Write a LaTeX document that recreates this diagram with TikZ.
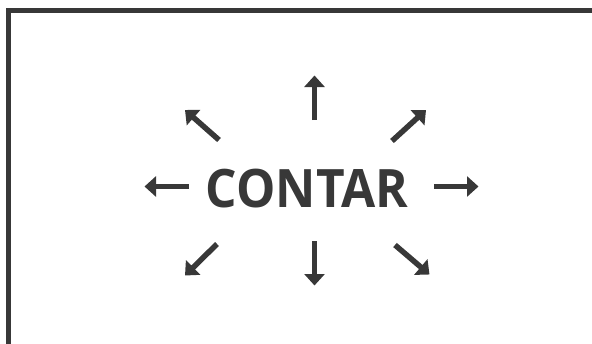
\documentclass[tikz,border=0pt]{standalone}
\usepackage{fontspec}
\setmainfont{Open Sans}
\newfontfamily\wordfont[FakeStretch=0.935]{Open Sans}
\usetikzlibrary{arrows.meta}
\definecolor{ink}{HTML}{383838}
\tikzset{
  frame/.style={draw=ink, line width=5pt},
  ray/.style={draw=ink, line width=5.5pt, -{Triangle[length=11.5pt,width=20pt]}},
  word/.style={inner sep=0pt, anchor=base, text=ink, font=\wordfont\fontsize{53}{53}\selectfont\bfseries}
}
\begin{document}
\begin{tikzpicture}[x=1pt,y=-1pt]
  \useasboundingbox (0,0) rectangle (592,343);
  % open frame running off the right and bottom edges
  \draw[frame] (8.5,360) -- (8.5,10.5) -- (610,10.5);
  \node[word] (w) at (307,207.5) {CONTAR};
  % ray end points
  \coordinate (nS) at (314.5,120);   \coordinate (nE) at (314.5,75.5);
  \coordinate (sS) at (314.5,241);   \coordinate (sE) at (314.5,285.5);
  \coordinate (wS) at (189,186.5);   \coordinate (wE) at (144.5,186.5);
  \coordinate (eS) at (434,186.5);   \coordinate (eE) at (478.5,186.5);
  \coordinate (nwS) at (219,140);    \coordinate (nwE) at (185,110);
  \coordinate (neS) at (392,141);    \coordinate (neE) at (426,110);
  \coordinate (swS) at (217,244);    \coordinate (swE) at (185,275.5);
  \coordinate (seS) at (395,245);    \coordinate (seE) at (429.5,274.5);
  \foreach \d in {n,s,w,e,nw,ne,sw,se}
    \draw[ray] (\d S) -- (\d E);
\end{tikzpicture}
\end{document}
